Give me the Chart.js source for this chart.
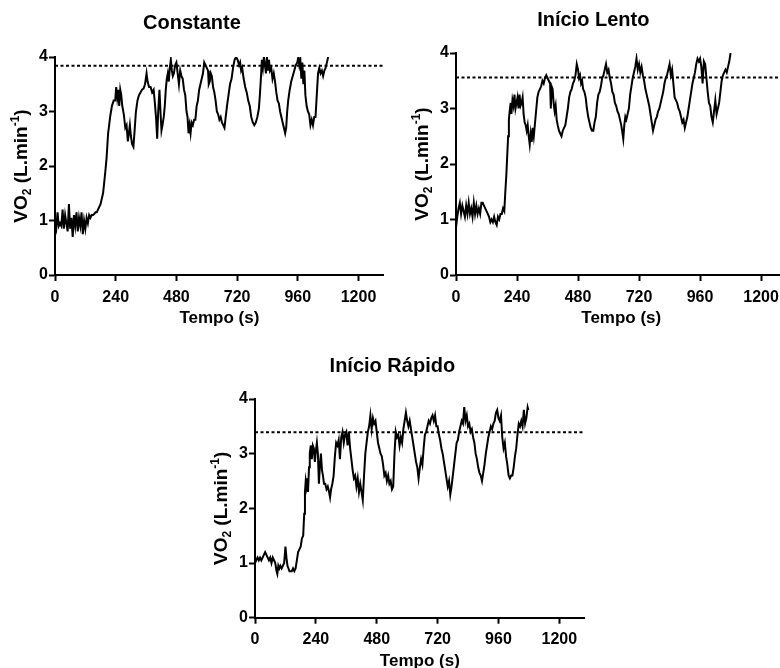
<!DOCTYPE html>
<html><head><meta charset="utf-8">
<script src="https://cdn.jsdelivr.net/npm/chart.js@4.4.1/dist/chart.umd.min.js"></script>
<style>
html,body{margin:0;padding:0;background:#fff;overflow:hidden;width:780px;height:668px}
#wrap{position:relative;width:780px;height:668px;overflow:hidden;background:#fff}
canvas{position:absolute}
</style></head><body><div id="wrap">
<canvas id="c1" width="390" height="335" style="left:0px;top:0px"></canvas>
<canvas id="c2" width="390" height="335" style="left:400px;top:0px"></canvas>
<canvas id="c3" width="390" height="340" style="left:200px;top:350px"></canvas>
</div>
<script>
// ---- data ----
const panelTitles = ['Constante', 'Início Lento', 'Início Rápido'];
const xTitle = 'Tempo (s)';
const yTitleParts = [['VO', ''], ['2', 'sub'], [' (L.min', ''], ['-1', 'sup'], [')', '']];
const xTicks = [0, 240, 480, 720, 960, 1200];
const yTicks = [0, 1, 2, 3, 4];
const thresholds = [3.84, 3.56, 3.39];

const constanteVO2 = [
[0,0.95],[5,0.85],[10,1.15],[15,0.9],[20,0.95],[25,0.9],[30,1.2],[35,0.85],[40,1.1],[45,0.95],[50,0.8],[55,1.3],[60,0.85],[65,1.05],[70,0.7],[75,1.1],[80,0.9],[85,1.15],[90,0.8],[95,1.05],[100,0.9],[105,1.15],[110,0.75],[115,1.0],[120,0.85],[125,1.05],[130,0.95],[135,1.1],[140,1.05],[145,1.1],[150,1.1],[155,1.12],[160,1.15],[165,1.15],[170,1.2],[175,1.25],
[180,1.3],[185,1.4],[190,1.5],[198,1.85],[204,2.15],[210,2.6],[218,2.9],[225,3.1],[232,3.2],[238,3.2],[242,3.45],[246,3.25],[250,3.4],[254,3.1],[258,3.4],[262,3.3],[266,3.1],[272,2.95],[278,2.7],[283,2.75],[288,2.45],[292,2.6],[296,2.75],[300,2.55],[305,2.4],[310,2.35],[314,2.6],[320,3.0],[326,3.2],[332,3.3],[338,3.35],[344,3.4],[350,3.42],[356,3.5],[362,3.7],[366,3.55],[372,3.45],[378,3.45],[384,3.35],[390,3.4],[395,3.15],[400,2.85],[404,2.5],[408,3.0],[413,3.4],[417,3.0],[421,2.65],[425,2.75],[430,2.9],[434,3.1],[438,3.4],[442,3.6],[446,3.7],[450,3.55],[454,3.8],[458,3.95],[462,3.75],[466,3.65],[470,3.7],[475,3.85],[480,3.9],[485,3.7],[490,3.5],[495,3.75],[500,3.65],[505,3.6],[510,3.4],[515,3.3],[520,3.0],[524,2.9],[528,2.6],[532,2.75],[536,2.6],[540,2.8],[545,2.75],[550,2.85],[555,2.85],[560,3.1],[565,3.2],[570,3.4],[575,3.5],[580,3.6],[585,3.7],[590,3.9],[595,3.85],[600,3.8],[605,3.75],[608,3.5],[612,3.55],[616,3.7],[620,3.65],[625,3.45],[630,3.35],[635,3.2],[640,3.0],[645,2.95],[650,2.85],[655,2.9],[660,2.8],[665,2.75],[670,2.7],[675,2.9],[680,3.1],[686,3.3],[692,3.5],[698,3.6],[704,3.8],[710,3.95],[716,4.0],[722,3.95],[728,3.85],[732,3.9],[736,3.75],[740,3.8],[746,3.6],[752,3.45],[758,3.35],[764,3.2],[770,3.1],[776,2.9],[782,2.8],[788,2.75],[794,2.8],[800,2.9],[806,3.05],[810,3.3],[814,3.6],[818,3.95],[822,3.8],[826,4.0],[830,3.85],[834,3.7],[838,4.0],[842,3.75],[846,3.95],[850,3.75],[855,3.8],[860,3.6],[865,3.7],[870,3.55],[875,3.35],[880,3.2],[885,3.15],[890,3.0],[895,2.9],[900,2.8],[905,2.7],[910,2.6],[914,2.7],[918,3.0],[922,3.2],[928,3.4],[934,3.55],[940,3.65],[946,3.75],[952,3.85],[958,3.9],[962,4.0],[966,3.85],[970,3.95],[974,3.6],[978,3.9],[982,3.5],[986,3.75],[990,3.3],[995,3.1],[1000,3.0],[1005,2.95],[1010,2.75],[1015,2.85],[1020,2.75],[1025,2.9],[1030,2.9],[1035,3.3],[1040,3.7],[1045,3.8],[1050,3.7],[1055,3.75],[1060,3.65],[1065,3.75],[1070,3.8],[1075,3.9],[1080,4.0]
];

const inicioLentoVO2 = [
[0,0.85],[5,1.05],[10,1.2],[15,1.3],[20,1.1],[25,1.25],[30,1.15],[35,1.05],[40,1.25],[45,1.1],[50,1.3],[55,1.1],[60,1.2],[65,1.05],[70,1.3],[75,1.1],[80,1.25],[85,1.1],[90,1.2],[95,1.1],[100,1.3],[105,1.3],[110,1.25],[115,1.2],[120,1.15],[125,1.1],[130,1.05],[135,0.95],[140,1.0],[145,0.95],[150,1.05],[155,0.95],[160,0.9],[165,1.05],[170,1.0],[175,1.1],[180,1.1],[185,1.2],[190,1.15],[194,1.5],[198,1.8],[202,2.2],[205,2.5],[208,2.8],[211,2.95],[215,3.1],[218,2.9],[222,3.15],[226,3.05],[230,3.25],[234,3.0],[238,3.1],[242,3.2],[246,3.0],[250,3.25],[254,3.05],[258,3.1],[262,3.2],[266,2.9],[270,2.75],[274,2.7],[278,2.6],[282,2.7],[286,2.5],[290,2.35],[294,2.55],[298,2.4],[302,2.65],[306,2.5],[310,2.7],[315,2.95],[320,3.2],[325,3.3],[330,3.35],[335,3.4],[340,3.5],[345,3.45],[350,3.55],[355,3.6],[360,3.55],[365,3.5],[370,3.45],[373,3.0],[376,3.4],[380,3.35],[384,3.1],[388,2.95],[392,3.05],[396,2.8],[400,2.7],[405,2.6],[410,2.55],[415,2.5],[420,2.6],[425,2.65],[430,2.7],[435,2.85],[440,3.0],[445,3.2],[450,3.3],[455,3.35],[460,3.45],[465,3.5],[470,3.6],[475,3.8],[480,3.7],[484,3.55],[488,3.6],[492,3.45],[496,3.5],[500,3.35],[505,3.3],[510,3.2],[515,3.0],[520,2.85],[525,2.75],[530,2.65],[535,2.6],[540,2.6],[545,2.75],[550,2.85],[555,3.1],[560,3.25],[565,3.3],[570,3.4],[575,3.55],[580,3.6],[585,3.7],[590,3.8],[595,3.65],[600,3.7],[605,3.55],[610,3.45],[615,3.3],[620,3.25],[625,3.1],[630,3.05],[635,2.95],[640,2.9],[645,2.8],[650,2.7],[655,2.55],[658,2.45],[662,2.7],[666,2.85],[670,2.8],[675,2.9],[680,3.0],[685,3.25],[690,3.4],[695,3.55],[700,3.65],[705,3.75],[710,3.9],[715,3.7],[720,3.8],[725,3.65],[730,3.75],[735,3.6],[740,3.5],[745,3.35],[750,3.25],[755,3.15],[760,3.05],[765,2.9],[770,2.75],[775,2.6],[780,2.7],[785,2.8],[790,2.85],[795,2.95],[800,3.0],[805,3.1],[810,3.2],[815,3.3],[820,3.45],[825,3.55],[830,3.6],[835,3.7],[840,3.8],[845,3.6],[850,3.7],[855,3.45],[860,3.2],[865,3.15],[870,3.1],[875,3.0],[880,2.95],[885,2.85],[890,2.75],[895,2.8],[900,2.65],[905,2.75],[910,2.85],[915,3.0],[920,3.15],[925,3.3],[930,3.45],[935,3.55],[940,3.65],[945,3.8],[950,3.9],[955,3.85],[960,3.9],[965,3.75],[970,3.45],[975,3.85],[980,3.8],[985,3.55],[990,3.3],[995,3.1],[1000,3.05],[1005,2.85],[1010,2.75],[1015,2.95],[1020,3.15],[1025,2.9],[1030,3.0],[1035,3.1],[1040,3.3],[1045,3.5],[1050,3.6],[1055,3.65],[1060,3.7],[1065,3.65],[1070,3.75],[1075,3.85],[1080,4.0]
];

const inicioRapidoVO2 = [
[0,1.0],[5,1.05],[10,1.1],[15,1.05],[20,1.1],[25,1.05],[30,1.1],[35,1.15],[40,1.2],[45,1.15],[50,1.1],[55,1.05],[60,1.1],[65,1.0],[70,1.1],[75,1.05],[80,1.0],[85,0.85],[88,0.8],[92,0.95],[96,0.9],[100,0.95],[105,0.9],[110,0.95],[115,1.0],[120,1.3],[124,1.1],[128,0.95],[132,0.9],[136,0.85],[140,0.85],[145,0.85],[150,0.9],[155,0.85],[160,0.9],[165,1.05],[170,1.2],[175,1.25],[180,1.3],[185,1.45],[190,1.5],[194,1.9],[197,2.3],[200,2.5],[203,2.4],[206,2.55],[209,2.3],[213,2.75],[216,3.0],[220,3.15],[224,2.9],[228,3.15],[232,3.1],[236,2.85],[240,3.05],[244,3.2],[248,3.0],[252,2.45],[256,2.8],[260,3.0],[264,2.7],[268,2.6],[272,2.45],[277,2.45],[282,2.35],[287,2.4],[292,2.3],[296,2.2],[300,2.35],[305,2.45],[310,2.6],[315,2.95],[320,3.2],[325,3.15],[330,3.25],[335,2.9],[340,3.3],[345,3.4],[350,3.2],[355,3.35],[360,3.4],[365,3.15],[370,3.4],[375,3.1],[380,2.9],[385,2.7],[390,2.55],[395,2.6],[400,2.4],[405,2.55],[410,2.3],[415,2.45],[420,2.3],[425,2.15],[430,2.6],[435,3.0],[440,3.2],[445,3.4],[450,3.5],[455,3.7],[460,3.45],[465,3.65],[470,3.55],[475,3.6],[480,3.4],[485,3.2],[490,3.1],[495,3.0],[500,2.95],[505,2.8],[510,2.6],[515,2.65],[520,2.5],[525,2.6],[530,2.45],[535,2.5],[540,2.35],[545,2.4],[550,3.0],[555,3.4],[560,3.3],[565,3.35],[570,3.15],[575,3.3],[580,3.2],[585,3.45],[590,3.6],[595,3.75],[600,3.6],[605,3.5],[610,3.6],[615,3.45],[620,3.3],[625,3.15],[630,3.0],[635,2.85],[640,2.75],[645,2.55],[650,2.75],[655,2.9],[660,2.8],[665,3.1],[670,3.35],[675,3.4],[680,3.5],[685,3.6],[690,3.55],[695,3.65],[700,3.7],[705,3.6],[710,3.7],[715,3.5],[720,3.5],[725,3.35],[730,3.25],[735,3.1],[740,3.0],[745,2.85],[750,2.7],[755,2.55],[760,2.4],[765,2.5],[770,2.25],[775,2.4],[780,2.6],[785,2.8],[790,3.0],[795,3.2],[800,3.25],[805,3.4],[810,3.5],[815,3.6],[820,3.55],[825,3.85],[830,3.6],[835,3.7],[840,3.5],[845,3.55],[850,3.4],[855,3.45],[860,3.3],[865,3.2],[870,3.0],[875,2.9],[880,2.75],[885,2.65],[890,2.6],[895,2.5],[900,2.65],[905,2.8],[910,3.0],[915,3.15],[920,3.3],[925,3.4],[930,3.5],[935,3.45],[940,3.55],[945,3.6],[950,3.75],[955,3.8],[960,3.65],[965,3.6],[970,3.7],[975,3.3],[980,3.1],[985,3.2],[990,2.95],[995,2.8],[1000,2.6],[1005,2.55],[1010,2.6],[1015,2.6],[1020,2.75],[1025,2.95],[1030,3.1],[1035,3.35],[1040,3.55],[1045,3.5],[1050,3.6],[1055,3.5],[1060,3.8],[1065,3.55],[1070,3.65],[1075,3.85],[1078,3.8]
];

// ---- layout (positions/sizes kept separate from data) ----
const FONT = "'Liberation Sans', Arial, Helvetica, sans-serif";
const X_MAX = 1300;
const layouts = [
  {id:'c1', yAxisW:55, padRight:6.2, titleTop:11, titleBottom:22, xAxisH:60, tickPad:7, xTitleBottom:6.8},
  {id:'c2', yAxisW:56, padRight:3.5, titleTop:8,  titleBottom:21, xAxisH:60, tickPad:7, xTitleBottom:6.8},
  {id:'c3', yAxisW:55, padRight:5.3, titleTop:4,  titleBottom:21, xAxisH:72.3, tickPad:6, xTitleBottom:18.8}
];

const yTitlePlugin = {
  id: 'yTitleRich',
  afterDraw(chart) {
    const {ctx, chartArea} = chart;
    const big = 'bold 19px ' + FONT, small = 'bold 12px ' + FONT;
    ctx.save();
    ctx.fillStyle = '#000';
    ctx.textBaseline = 'alphabetic';
    ctx.textAlign = 'left';
    let total = 0;
    const widths = yTitleParts.map(([t, k]) => { ctx.font = k ? small : big; const w = ctx.measureText(t).width; total += w; return w; });
    ctx.translate(chartArea.left - 28, (chartArea.top + chartArea.bottom) / 2);
    ctx.rotate(-Math.PI / 2);
    let x = -total / 2;
    yTitleParts.forEach(([t, k], i) => {
      ctx.font = k ? small : big;
      const dy = k === 'sub' ? 4 : (k === 'sup' ? -8 : 0);
      ctx.fillText(t, x, dy);
      x += widths[i];
    });
    ctx.restore();
  }
};

function buildPanel(idx, series) {
  const g = layouts[idx];
  const axisCommon = {
    grid: {display: true, drawOnChartArea: false, drawTicks: true, tickLength: 6, tickColor: '#000', tickWidth: 2},
    border: {display: true, color: '#000', width: 2}
  };
  new Chart(document.getElementById(g.id), {
    type: 'scatter',
    data: {
      datasets: [
        {data: series.map(p => ({x: p[0], y: p[1]})), showLine: true, borderColor: '#000', borderWidth: 2, pointRadius: 0, tension: 0, fill: false},
        {data: [{x: 0, y: thresholds[idx]}, {x: X_MAX, y: thresholds[idx]}], showLine: true, borderColor: '#000', borderWidth: 2, borderDash: [3, 2.5], pointRadius: 0, fill: false}
      ]
    },
    options: {
      responsive: false, animation: false, devicePixelRatio: 1,
      layout: {padding: {left: 0, right: g.padRight, top: 0, bottom: 0}},
      plugins: {
        legend: {display: false}, tooltip: {enabled: false},
        title: {display: true, text: panelTitles[idx], color: '#000', font: {family: FONT, size: 20, weight: 'bold'}, padding: {top: g.titleTop, bottom: g.titleBottom}}
      },
      scales: {
        x: Object.assign({}, axisCommon, {
          type: 'linear', min: 0, max: X_MAX,
          afterBuildTicks: s => { s.ticks = xTicks.map(v => ({value: v})); },
          afterFit: s => { s.height = g.xAxisH; },
          ticks: {color: '#000', font: {family: FONT, size: 16, weight: 'bold'}, padding: g.tickPad, maxRotation: 0, autoSkip: false, callback: v => String(v)},
          title: {display: true, text: xTitle, color: '#000', font: {family: FONT, size: 17, weight: 'bold'}, padding: {top: 0, bottom: g.xTitleBottom}}
        }),
        y: Object.assign({}, axisCommon, {
          min: 0, max: 4,
          afterBuildTicks: s => { s.ticks = yTicks.map(v => ({value: v})); },
          afterFit: s => { s.width = g.yAxisW; },
          ticks: {color: '#000', font: {family: FONT, size: 16, weight: 'bold'}, padding: 1, callback: v => String(v)}
        })
      }
    },
    plugins: [yTitlePlugin]
  });
}

buildPanel(0, constanteVO2);
buildPanel(1, inicioLentoVO2);
buildPanel(2, inicioRapidoVO2);
</script>
</body></html>
